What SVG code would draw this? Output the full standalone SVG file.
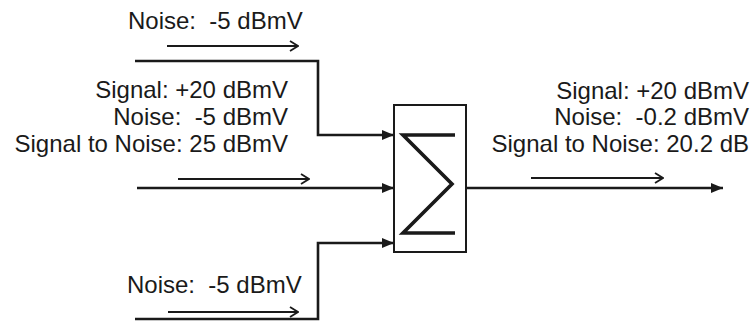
<svg xmlns="http://www.w3.org/2000/svg" width="752" height="322" viewBox="0 0 752 322">
<defs>
<style>
text{font-family:"Liberation Sans",Arial,sans-serif;font-size:24px;fill:#1a1a1a;white-space:pre}
.wire{fill:none;stroke:#1a1a1a;stroke-width:2.6}
.flow{fill:none;stroke:#1a1a1a;stroke-width:1.8}
.end{text-anchor:end}
</style>
<marker id="fill" viewBox="0 0 12 10" refX="12" refY="5" markerWidth="12" markerHeight="10" markerUnits="userSpaceOnUse" orient="auto">
<path d="M0,0 L12,5 L0,10 Z" fill="#1a1a1a"/>
</marker>
<marker id="open" viewBox="0 0 10 12" refX="9" refY="6" markerWidth="10" markerHeight="12" markerUnits="userSpaceOnUse" orient="auto">
<path d="M1,1 L9,6 L1,11" fill="none" stroke="#1a1a1a" stroke-width="1.8"/>
</marker>
</defs>
<g id="connectors">
<path class="wire" d="M135,61 H318 V135 H394" marker-end="url(#fill)"/>
<path class="wire" d="M137,188 H394" marker-end="url(#fill)"/>
<path class="wire" d="M135,319 H318 V243 H394" marker-end="url(#fill)"/>
<path class="wire" d="M466,188 H723" marker-end="url(#fill)"/>
<path class="flow" d="M167,46 H298" marker-end="url(#open)"/>
<path class="flow" d="M178,179 H309" marker-end="url(#open)"/>
<path class="flow" d="M168,312 H298" marker-end="url(#open)"/>
<path class="flow" d="M531,178 H663" marker-end="url(#open)"/>
</g>
<g id="summer">
<rect x="394" y="105" width="72" height="147" fill="#fff" stroke="#1a1a1a" stroke-width="2"/>
<path d="M455,135 H403 L452,184 L403,233 H455" fill="none" stroke="#1a1a1a" stroke-width="3.6" stroke-linejoin="miter"/>
</g>
<g id="label-top">
<text x="128" y="29">Noise:  -5 dBmV</text>
</g>
<g id="label-input">
<text class="end" x="288" y="98">Signal: +20 dBmV</text>
<text class="end" x="288" y="125">Noise:  -5 dBmV</text>
<text class="end" x="288" y="152">Signal to Noise: 25 dBmV</text>
</g>
<g id="label-bottom">
<text x="127" y="293">Noise:  -5 dBmV</text>
</g>
<g id="label-output">
<text class="end" x="749" y="99">Signal: +20 dBmV</text>
<text class="end" x="749" y="125">Noise:  -0.2 dBmV</text>
<text class="end" x="749" y="152">Signal to Noise: 20.2 dB</text>
</g>
</svg>
